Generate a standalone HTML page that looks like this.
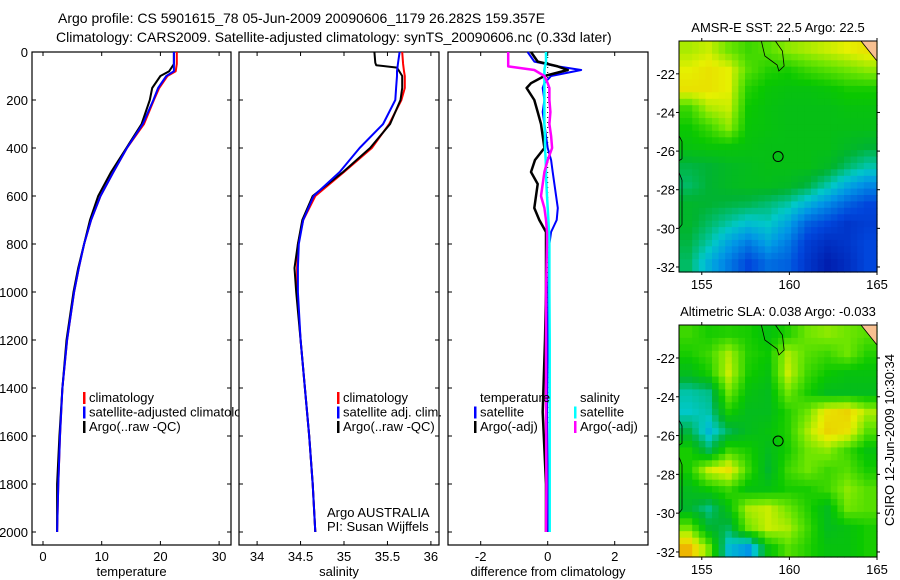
<!DOCTYPE html>
<html><head><meta charset="utf-8"><style>
html,body{margin:0;padding:0;background:#fff;}
svg{display:block;font-family:"Liberation Sans",sans-serif;}
</style></head><body>
<svg id="fig" width="900" height="580" viewBox="0 0 900 580" xmlns="http://www.w3.org/2000/svg">
<rect width="900" height="580" fill="#fff"/>
<text x="58" y="23" font-size="14">Argo profile: CS 5901615_78 05-Jun-2009 20090606_1179 26.282S 159.357E</text>
<text x="56" y="42" font-size="14">Climatology: CARS2009. Satellite-adjusted climatology: synTS_20090606.nc (0.33d later)</text>
<g id="g"></g>
</svg>
<script>
// ---- profile data ----
const depthT = [0,50,80,100,150,200,300,400,500,600,700,800,900,1000,1200,1400,1600,1800,2000];
const tempClim = [22.8,22.8,22.6,21.2,19.8,18.9,17.2,14.3,12.0,9.8,8.2,7.0,6.1,5.3,4.1,3.3,2.9,2.6,2.4];
const tempSat = [22.3,22.3,22.3,21.0,19.6,18.8,17.0,14.3,12.0,9.8,8.2,7.0,6.1,5.3,4.1,3.3,2.9,2.6,2.4];
const tempArgo = [22.3,22.3,21.5,20.0,18.6,18.2,16.8,14.2,11.6,9.4,8.0,7.0,6.0,5.2,4.0,3.3,2.8,2.4,2.4];
const salClim = [35.67,35.68,35.69,35.70,35.70,35.66,35.52,35.32,35.0,34.67,34.53,34.47,34.46,34.46,34.5,34.55,34.6,34.64,34.67];
const salSat = [35.64,35.62,35.61,35.61,35.60,35.59,35.45,35.18,34.95,34.65,34.53,34.48,34.47,34.47,34.5,34.55,34.6,34.64,34.67];
const depthSA = [0,45,55,65,100,150,200,300,400,500,600,700,800,900,1000,1200,1400,1600,1800,2000];
const salArgo = [35.35,35.36,35.37,35.61,35.67,35.67,35.65,35.53,35.3,34.99,34.64,34.52,34.47,34.43,34.45,34.5,34.55,34.6,34.64,34.67];
const depthD = [0,40,60,75,100,130,150,200,250,300,350,400,450,500,550,600,650,700,750,800,1000,1200,1500,1800,2000];
const tDiffSat = [-0.6,-0.4,0.3,1.0,0.1,-0.1,-0.15,-0.1,-0.15,-0.1,-0.05,0,0.1,0.15,0.2,0.25,0.3,0.27,0.1,0.05,0.02,0.0,-0.02,0.0,0.0];
const tDiffArgo = [-0.5,-0.3,0.3,0.6,-0.1,-0.5,-0.63,-0.4,-0.3,-0.2,-0.15,-0.1,-0.38,-0.5,-0.3,-0.35,-0.4,-0.25,-0.05,-0.05,-0.05,-0.08,-0.15,-0.05,-0.05];
const sDiffSat = [-0.05,-0.05,-0.08,-0.1,-0.1,-0.1,-0.1,-0.1,-0.1,-0.1,-0.08,-0.08,-0.06,-0.05,-0.04,-0.02,0,0.02,0.04,0.05,0.05,0.06,0.06,0.06,0.06];
const sDiffArgo = [-1.18,-1.18,-1.18,-0.4,-0.1,0.0,0.05,0.05,0.08,0.05,0.1,0.13,0.0,-0.1,-0.15,-0.2,-0.1,-0.05,-0.02,-0.02,-0.05,-0.05,-0.05,-0.04,-0.05];
const depthTicks = [0,200,400,600,800,1000,1200,1400,1600,1800,2000];
const tempTicks = [0,10,20,30];
const salTicks = [34,34.5,35,35.5,36];
const diffTicks = [-2,0,2];
// ---- map data (values 0..1 on colour scale), rows north->south ----
const sstGrid = [
[.66,.68,.62,.58,.60,.64,.66,.68,.70,.72],
[.70,.72,.70,.60,.56,.55,.58,.60,.62,.64],
[.72,.72,.70,.56,.53,.52,.52,.53,.55,.55],
[.58,.66,.68,.54,.52,.51,.51,.51,.52,.52],
[.54,.58,.64,.53,.52,.51,.51,.51,.51,.51],
[.52,.53,.53,.52,.51,.51,.51,.51,.49,.47],
[.46,.47,.49,.50,.51,.51,.51,.49,.44,.40],
[.44,.47,.49,.50,.50,.49,.46,.40,.33,.28],
[.48,.47,.46,.45,.43,.40,.34,.28,.22,.18],
[.48,.44,.40,.36,.38,.32,.22,.18,.14,.16],
[.46,.40,.32,.26,.32,.26,.16,.12,.14,.18],
[.44,.34,.26,.18,.24,.22,.14,.08,.12,.18]];
const slaGrid = [
[.58,.55,.56,.55,.52,.56,.62,.64,.62,.60],
[.55,.58,.66,.56,.54,.66,.60,.58,.62,.56],
[.50,.55,.68,.55,.52,.68,.58,.54,.52,.52],
[.40,.42,.62,.52,.50,.62,.55,.50,.50,.50],
[.38,.40,.55,.50,.50,.56,.62,.72,.74,.66],
[.46,.35,.45,.50,.52,.56,.66,.74,.72,.60],
[.55,.45,.58,.55,.50,.55,.62,.64,.58,.52],
[.55,.68,.72,.58,.48,.58,.62,.58,.60,.55],
[.50,.54,.58,.52,.52,.55,.55,.58,.64,.60],
[.48,.42,.52,.66,.68,.62,.56,.50,.62,.60],
[.62,.48,.45,.62,.68,.66,.58,.50,.52,.55],
[.78,.62,.36,.30,.52,.60,.56,.52,.52,.55]];
const latTicks = [-22,-24,-26,-28,-30,-32];
const lonTicks = [155,160,165];
const argoLon = 159.357, argoLat = -26.282;

const NS = "http://www.w3.org/2000/svg";
const G = document.getElementById('g');
function mk(tag, attrs, parent, txt){
  const e = document.createElementNS(NS, tag);
  for (const k in attrs) e.setAttribute(k, attrs[k]);
  if (txt !== undefined) e.textContent = txt;
  (parent||G).appendChild(e); return e;
}
const Y0 = 52, YS = 0.24, YB = 545;
const yD = d => Y0 + d*YS;
const xT = v => 43 + v*5.87;
const xS = v => 344 + (v-35)*86.9;
const xDf = v => 547.7 + v*33.5;
const FS = 13;

function panel(name, x0, x1, xf, xticks, xlabel, yLabels){
  mk('rect',{x:x0,y:Y0,width:x1-x0,height:YB-Y0,fill:'#fff'});
  const r = mk('rect',{x:x0,y:Y0,width:x1-x0,height:YB-Y0,fill:'none',stroke:'#000','stroke-width':1.2});
  
  
  depthTicks.forEach(d=>{
    const y=yD(d);
    mk('line',{x1:x0,y1:y,x2:x0+4,y2:y,stroke:'#000'});
    mk('line',{x1:x1,y1:y,x2:x1-4,y2:y,stroke:'#000'});
    if (yLabels){
      const t = mk('text',{x:x0-4,y:y+5,'font-size':FS,'text-anchor':'end'},G,String(d));
      
      
    }
  });
  xticks.forEach(v=>{
    const x=xf(v);
    mk('line',{x1:x,y1:YB,x2:x,y2:YB-4,stroke:'#000'});
    mk('line',{x1:x,y1:Y0,x2:x,y2:Y0+4,stroke:'#000'});
    const t = mk('text',{x:x,y:YB+16,'font-size':FS,'text-anchor':'middle'},G,String(v));
    
    
  });
  const t = mk('text',{x:(x0+x1)/2,y:576,'font-size':FS,'text-anchor':'middle'},G,xlabel);
  
  
}
function line(name, depths, vals, xf, col, w){
  const pts = depths.map((d,i)=> xf(vals[i]).toFixed(1)+','+yD(d).toFixed(1)).join(' ');
  const p = mk('polyline',{points:pts,fill:'none',stroke:col,'stroke-width':w||2,'stroke-linejoin':'round'});
  
  
}
function legend(items, x, y){
  items.forEach((it,i)=>{
    const yy = y + i*14.5;
    if (it.c) mk('rect',{x:x,y:yy-10,width:2.5,height:12,fill:it.c});
    const t = mk('text',{x:x+6,y:yy,'font-size':FS},G,it.t);
    
    
  });
}

// Panel 1 temperature
panel('temperature', 32, 231, xT, tempTicks, 'temperature', true);
line('temp-climatology', depthT, tempClim, xT, '#f00', 2);
line('temp-argo', depthT, tempArgo, xT, '#000', 2);
line('temp-satellite', depthT, tempSat, xT, '#00f', 2);
legend([{c:'#f00',t:'climatology'},{c:'#00f',t:'satellite-adjusted climatology'},{c:'#000',t:'Argo(..raw -QC)'}], 83, 402);

// Panel 2 salinity (drawn after, clipping panel 1 legend)
panel('salinity', 239, 439, xS, salTicks, 'salinity', false);
line('sal-climatology', depthT, salClim, xS, '#f00', 2);
line('sal-argo', depthSA, salArgo, xS, '#000', 2);
line('sal-satellite', depthT, salSat, xS, '#00f', 2);
legend([{c:'#f00',t:'climatology'},{c:'#00f',t:'satellite adj. clim.'},{c:'#000',t:'Argo(..raw -QC)'}], 337, 402);
const a1 = mk('text',{x:327,y:517,'font-size':FS},G,'Argo AUSTRALIA');


const a2 = mk('text',{x:327,y:531,'font-size':FS},G,'PI: Susan Wijffels');



// Panel 3 difference
panel('difference', 448, 648, xDf, diffTicks, 'difference from climatology', false);
mk('line',{x1:xDf(0),y1:Y0,x2:xDf(0),y2:yD(1550),stroke:'#000','stroke-dasharray':'1,4'});
line('temp-diff-satellite', depthD, tDiffSat, xDf, '#00f', 2);
line('temp-diff-argo', depthD, tDiffArgo, xDf, '#000', 2.5);
line('sal-diff-satellite', depthD, sDiffSat, xDf, '#0ff', 2.5);
line('sal-diff-argo', depthD, sDiffArgo, xDf, '#f0f', 2.5);
legend([{t:'temperature'},{c:'#00f',t:'satellite'},{c:'#000',t:'Argo(-adj)'}], 474, 402);
legend([{t:'salinity'},{c:'#0ff',t:'satellite'},{c:'#f0f',t:'Argo(-adj)'}], 574, 402);

// ---- maps ----
const stops = [[0,[0,0,140]],[0.18,[0,70,220]],[0.3,[0,150,230]],[0.38,[0,200,200]],[0.47,[0,180,50]],[0.54,[10,200,0]],[0.62,[110,230,0]],[0.7,[230,240,0]],[0.8,[240,168,0]],[1,[224,48,0]]];
function cmap(v){
  for(let i=1;i<stops.length;i++){
    if(v<=stops[i][0]){
      const a=stops[i-1],b=stops[i],f=(v-a[0])/(b[0]-a[0]);
      const c=a[1].map((x,j)=>Math.round(x+(b[1][j]-x)*f));
      return 'rgb('+c.join(',')+')';
    }
  }
  return 'rgb(224,48,0)';
}
function sample(grid, fr, fc){
  const rows=grid.length, cols=grid[0].length;
  const r=Math.min(Math.max(fr,0),rows-1), c=Math.min(Math.max(fc,0),cols-1);
  const r0=Math.floor(r), c0=Math.floor(c), r1=Math.min(r0+1,rows-1), c1=Math.min(c0+1,cols-1);
  const fy=r-r0, fx=c-c0;
  return grid[r0][c0]*(1-fx)*(1-fy)+grid[r0][c1]*fx*(1-fy)+grid[r1][c0]*(1-fx)*fy+grid[r1][c1]*fx*fy;
}
function map(name, grid, top, bottom, title, tickY){
  const x0=679, x1=877, lon0=153.7, lon1=165, lat0=-20.3, lat1=-32.26;
  const lx = lo => x0 + (lo-lon0)*(x1-x0)/(lon1-lon0);
  const ly = la => top + (la-lat0)*(bottom-top)/(lat1-lat0);
  const rows=grid.length, cols=grid[0].length, up=3;
  const R=rows*up, C=cols*up;
  const cw=(x1-x0)/C, ch=(bottom-top)/R;
  const g = mk('g',{});
  
  
  for(let r=0;r<R;r++) for(let c=0;c<C;c++){
    const v = sample(grid, (r+0.5)/up-0.5, (c+0.5)/up-0.5);
    const cell = mk('rect',{x:(x0+c*cw).toFixed(1),y:(top+r*ch).toFixed(1),width:(cw+0.6).toFixed(1),height:(ch+0.6).toFixed(1),fill:cmap(v)},g);
    
    
  }
  mk('polygon',{points:`${x1-16},${top} ${x1},${top} ${x1},${top+20}`,fill:'#f8c090',stroke:'#000','stroke-width':0.8});
  mk('path',{d:`M${lx(158.4)},${top} L${lx(158.6)},${top+15} L${lx(159.3)},${top+24} L${lx(159.4)},${top+30} L${lx(159.7)},${top+25} L${lx(159.6)},${top+10} L${lx(159.2)},${top}`,fill:'none',stroke:'#000','stroke-width':0.8});
  mk('path',{d:`M${x0},${ly(-25.2)} L${x0+3},${ly(-25.5)} L${x0+3},${ly(-26.4)} L${x0},${ly(-26.5)} M${x0},${ly(-27.1)} L${x0+3},${ly(-27.5)} L${x0+3},${ly(-29.8)} L${x0},${ly(-30)}`,fill:'none',stroke:'#000','stroke-width':0.8});
  const circ = mk('circle',{cx:lx(argoLon),cy:ly(argoLat),r:5,fill:'none',stroke:'#000','stroke-width':1});
  
  
  mk('rect',{x:x0,y:top,width:x1-x0,height:bottom-top,fill:'none',stroke:'#000','stroke-width':1});
  latTicks.forEach(la=>{
    const y=ly(la);
    mk('line',{x1:x0,y1:y,x2:x0-3,y2:y,stroke:'#000'});
    mk('line',{x1:x1,y1:y,x2:x1+3,y2:y,stroke:'#000'});
    const t=mk('text',{x:x0-4,y:y+5,'font-size':FS,'text-anchor':'end'},G,String(la));
    
    
  });
  lonTicks.forEach(lo=>{
    const x=lx(lo);
    mk('line',{x1:x,y1:bottom,x2:x,y2:bottom+3,stroke:'#000'});
    mk('line',{x1:x,y1:top,x2:x,y2:top-3,stroke:'#000'});
    const t=mk('text',{x:x,y:tickY,'font-size':FS,'text-anchor':'middle'},G,String(lo));
    
    
  });
  const tt=mk('text',{x:(x0+x1)/2,y:top-9,'font-size':FS,'text-anchor':'middle'},G,title);
  
  
}
map('sst-map', sstGrid, 41, 272, 'AMSR-E SST: 22.5 Argo: 22.5', 289);
map('sla-map', slaGrid, 325, 557, 'Altimetric SLA: 0.038 Argo: -0.033', 574);
const cs = mk('text',{x:0,y:0,'font-size':FS,'text-anchor':'middle',transform:'translate(894,440) rotate(-90)'},G,'CSIRO 12-Jun-2009 10:30:34');


</script>
</body></html>
